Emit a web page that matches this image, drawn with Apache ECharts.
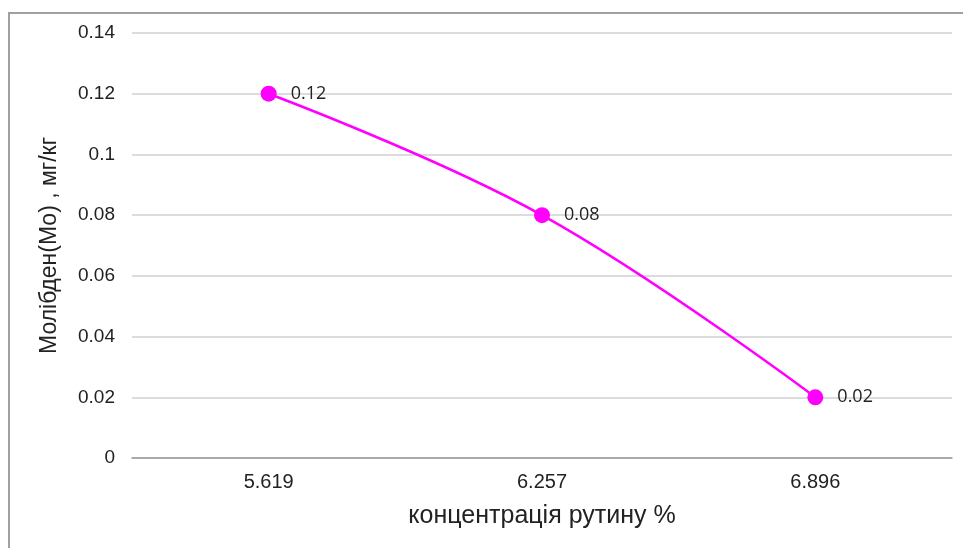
<!DOCTYPE html>
<html>
<head>
<meta charset="utf-8">
<script src="https://cdn.jsdelivr.net/npm/echarts@6/dist/echarts.min.js"></script>
<style>
  html, body { margin: 0; padding: 0; background: #fff; }
  #frame { position: absolute; left: 8px; top: 12px; width: 960px; height: 540px;
           border-left: 2px solid #a0a0a0; border-top: 2px solid #a0a0a0; }
  #echart { position: absolute; left: 0; top: 0; width: 963px; height: 548px; }
</style>
</head>
<body>
<div id="frame"></div>
<div id="echart"></div>
<script>
var categories = ['5.619', '6.257', '6.896'];
var values = [0.12, 0.08, 0.02];

var myChart = echarts.init(document.getElementById('echart'));
var option = {
    animation: false,
    grid: {
        left: 132,
        right: 11,
        top: 33,
        bottom: 90
    },
    xAxis: {
        type: 'category',
        data: categories,
        name: 'концентрація рутину %',
        nameLocation: 'middle',
        nameGap: 46,
        nameTextStyle: {
            fontFamily: 'Liberation Sans',
            fontSize: 25,
            color: '#222'
        },
        axisLine: { lineStyle: { color: '#999', width: 1.5 } },
        axisTick: { show: false },
        axisLabel: {
            fontFamily: 'Liberation Sans',
            fontSize: 20,
            color: '#222',
            margin: 14
        }
    },
    yAxis: {
        type: 'value',
        min: 0,
        max: 0.14,
        interval: 0.02,
        name: 'Молібден(Мо) , мг/кг',
        nameLocation: 'middle',
        nameGap: 71,
        nameTextStyle: {
            fontFamily: 'Liberation Sans',
            fontSize: 23,
            color: '#222'
        },
        axisLine: { show: false },
        axisTick: { show: false },
        splitLine: { lineStyle: { color: '#d0d0d0', width: 1.5 } },
        axisLabel: {
            fontFamily: 'Liberation Sans',
            fontSize: 19,
            color: '#222',
            margin: 17,
            formatter: function (v) { return String(+v.toFixed(2)); }
        }
    },
    series: [{
        type: 'line',
        data: values,
        smooth: 0.4,
        symbol: 'circle',
        symbolSize: 16,
        itemStyle: { color: '#ff00ff' },
        lineStyle: { color: '#ff00ff', width: 2.5 },
        label: {
            show: true,
            position: 'right',
            distance: 14,
            fontFamily: 'Open Sans',
            fontSize: 18,
            color: '#222'
        }
    }]
};
myChart.setOption(option);
</script>
</body>
</html>
